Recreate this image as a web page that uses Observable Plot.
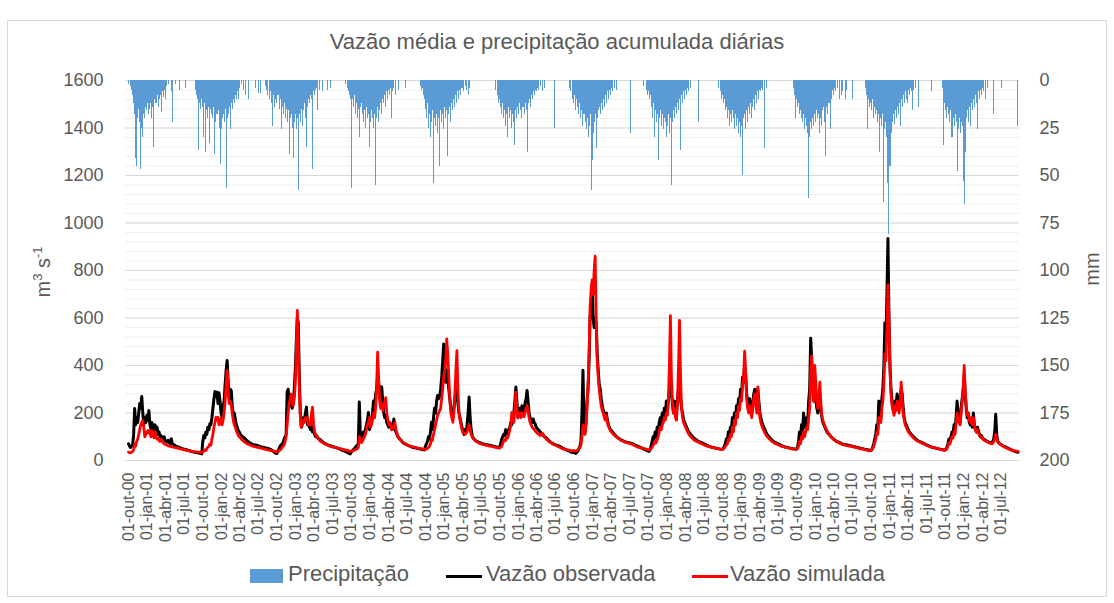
<!DOCTYPE html>
<html><head><meta charset="utf-8">
<script src="https://cdn.jsdelivr.net/npm/d3@7"></script>
<script src="https://cdn.jsdelivr.net/npm/@observablehq/plot@0.6"></script>
<style>
body{margin:0;background:#fff;font-family:'Liberation Sans',Arial,sans-serif;color:#595959;}
#wrap{position:relative;width:1114px;height:603px;overflow:hidden;background:#fff;}
#frame{position:absolute;left:7px;top:20px;width:1100px;height:577px;border:1px solid #d9d9d9;box-sizing:border-box;}
#chart{position:absolute;left:0;top:0;}
#title{position:absolute;left:0;top:31px;width:1114px;text-align:center;font-size:22px;line-height:22px;white-space:nowrap;}
.ylab{position:absolute;font-size:20px;line-height:20px;white-space:nowrap;transform:translate(-50%,-50%) rotate(-90deg);}
.ylab sup{font-size:13px;line-height:0;}
.leg{position:absolute;top:563px;font-size:22px;line-height:22px;white-space:nowrap;}
.sw{position:absolute;}
</style></head>
<body>
<div id="wrap">
  <div id="frame"></div>
  <div id="chart"></div>
  <div id="title">Vazão média e precipitação acumulada diárias</div>
  <div class="ylab" style="left:43px;top:272px;">m<sup>3</sup> s<sup>-1</sup></div>
  <div class="ylab" style="left:1092px;top:269px;">mm</div>
  <div class="sw" style="left:250px;top:569px;width:33px;height:14px;background:#5b9bd5;"></div>
  <div class="leg" style="left:288px;">Precipitação</div>
  <div class="sw" style="left:446px;top:575px;width:36px;height:3px;background:#000;"></div>
  <div class="leg" style="left:486px;">Vazão observada</div>
  <div class="sw" style="left:692px;top:575px;width:36px;height:3px;background:#ff0000;"></div>
  <div class="leg" style="left:730px;">Vazão simulada</div>
</div>
<script>
// 5-day samples from 01-out-2000, one row per hydrological year (Oct-Sep), 73 values each
const vazaoObservada = [
 [70,60,55,60,65, 110,219,150,180, 160,200,240,220, 269,200,150,180, 160,190,170,210, 150,130,160,140, 120,150,130,140, 110,120,100,105, 95,90,100,85, 80,78,85,75, 72,92,70,68, 65,62,60,58, 57,55,53,52, 50,49,47,46, 45,44,42,41, 40,38,37,36, 35,34,33,32, 31,30,29,28],
 [80,105,95,120,110, 140,130,155,150, 180,220,260,290, 270,288,240,285, 250,200,180,230, 250,320,380,421, 330,260,300,295, 230,190,200,175, 150,140,125,120, 110,105,100,98, 95,90,85,82, 78,75,72,70, 68,67,66,65, 64,63,62,60, 58,57,56,55, 54,53,52,51, 50,48,46,44, 40,36,32,30],
 [30,40,50,60,65, 70,75,90,100, 110,288,300,250, 230,260,220,240, 300,380,500,600, 580,350,200,140, 160,180,170,200, 225,150,160,140, 130,150,120,130, 110,100,105,95, 92,90,85,82, 78,75,72,70, 68,66,64,62, 61,60,58,57, 56,55,53,51, 50,48,46,44, 42,40,38,36, 34,32,30,28],
 [35,40,45,50,55, 60,65,70,246, 110,90,100,120, 110,130,150,170, 202,130,150,170, 200,250,220,280, 300,360,330,260, 300,310,252,200, 180,190,160,150, 140,160,150,130, 140,175,130,120, 110,100,95,90, 85,80,75,72, 70,68,66,64, 62,60,58,56, 55,54,53,52, 51,50,49,48, 47,46,45,44],
 [60,70,80,100,90, 120,161,130,180, 220,200,250,274, 260,270,300,350, 420,491,400,330, 380,350,300,260, 220,200,180,220, 260,300,280,240, 200,180,160,140, 120,110,130,120, 150,200,267,180, 130,105,95,90, 85,82,80,78, 76,74,72,71, 70,69,68,67, 66,65,64,63, 62,61,60,59, 58,57,56,56],
 [56,70,90,100,110, 105,130,120,110, 130,140,160,150, 180,200,250,309, 250,180,200,220, 190,230,210,200, 240,260,295,250, 200,180,170,160, 175,160,154,140, 135,130,125,120, 115,110,105,100, 98,95,90,86, 82,78,75,72, 70,68,66,64, 63,62,60,58, 55,52,50,48, 46,44,42,40, 38,36,35,34],
 [34,32,30,35,40, 50,60,80,200, 380,150,120,160, 250,300,420,600, 650,740,600,560, 600,580,450,380, 320,300,260,230, 210,190,180,200, 170,150,140,130, 125,120,115,110, 105,100,97,94, 91,88,86,84, 82,80,78,77, 76,75,74,73, 72,70,68,66, 64,62,60,58, 56,54,52,50, 48,46,44,42],
 [40,38,45,60,80, 100,90,120,100, 140,120,160,180, 150,200,170,220, 180,250,200,260, 300,330,280,240, 200,250,220,200, 260,300,340,260, 220,200,170,160, 150,140,130,120, 115,110,105,100, 95,92,88,85, 82,80,78,76, 74,72,70,68, 66,64,62,60, 58,57,56,55, 54,53,52,51, 50,49,48,47],
 [47,50,60,70,90, 80,120,100,140, 130,180,150,200, 170,230,200,260, 240,300,280,350, 330,400,360,280, 250,230,260,220, 200,240,280,300, 260,220,300,250, 200,180,160,150, 140,130,120,110, 105,100,95,90, 86,82,79,76, 74,72,70,68, 66,64,62,60, 58,57,56,55, 54,53,52,51, 50,50,49,48],
 [48,55,80,120,100, 150,120,200,140, 160,180,150,250, 300,515,420,300, 250,300,260,220, 200,240,280,220, 180,160,150,140, 130,120,115,110, 105,100,96,92, 88,85,82,80, 78,76,74,72, 70,69,68,67, 66,65,64,63, 62,61,60,59, 58,57,56,55, 54,53,52,51, 50,49,48,47, 46,45,44,43],
 [43,45,55,70,90, 110,150,130,250, 200,180,260,300, 400,580,500,700, 935,600,400,300, 250,220,200,250, 230,280,260,220, 250,300,280,220, 180,160,150,140, 130,120,115,110, 105,100,96,92, 88,85,82,80, 78,76,74,72, 70,68,66,64, 62,60,58,56, 55,54,53,52, 51,50,49,48, 47,46,45,44],
 [44,48,55,70,90, 80,100,120,110, 150,130,180,250, 200,180,160,220, 260,300,360,280, 220,180,200,160, 150,170,140,200, 150,130,120,140, 125,110,100,105, 95,90,88,85, 82,80,78,76, 74,72,80,90, 120,195,110,80, 75,70,68,65, 62,60,58,56, 54,52,50,48, 46,44,42,40, 38,37,36,35]
];
const vazaoSimulada = [
 [35,33,32,35,38, 45,70,60,80, 90,110,130,150, 160,168,140,100, 110,120,126,115, 125,100,126,110, 95,120,100,90, 95,85,80,90, 85,75,70,68, 66,64,62,60, 59,58,57,56, 55,54,53,52, 51,50,49,48, 47,46,45,44, 43,42,41,40, 40,39,38,38, 37,36,36,35, 35,34,34,33],
 [35,40,45,42,50, 55,60,70,65, 90,110,140,160, 182,170,182,150, 175,160,150,170, 200,250,320,379, 300,240,250,231, 200,170,150,140, 125,115,105,100, 95,90,86,82, 78,75,72,70, 68,66,64,62, 60,59,58,57, 56,55,54,53, 52,51,50,49, 48,47,46,45, 44,43,42,41, 40,39,38,37],
 [37,38,40,45,48, 55,60,65,80, 100,150,200,240, 260,280,250,230, 260,320,450,632, 500,300,180,140, 150,170,160,180, 170,181,150,160, 150,200,225,150, 120,110,100,95, 90,85,80,78, 75,72,70,68, 66,64,62,61, 60,58,57,56, 55,54,53,52, 51,50,49,48, 47,46,45,44, 43,42,40,38],
 [40,40,42,44,45, 48,50,55,100, 80,75,80,90, 100,110,130,150, 160,181,140,150, 170,200,180,220, 300,456,350,250, 220,240,210,230, 250,265,200,170, 150,160,140,130, 140,150,160,130, 115,100,92,88, 84,80,76,73, 70,68,66,64, 62,60,59,58, 57,56,55,54, 53,52,51,50, 50,49,48,47],
 [46,48,50,55,60, 70,90,85,110, 130,150,170,190, 200,210,220,260, 300,350,380,420, 512,450,350,260, 200,180,161,200, 280,380,463,300, 200,170,150,130, 120,115,110,115, 120,140,150,130, 110,100,92,88, 84,80,77,75, 73,71,70,68, 67,66,65,64, 63,62,61,60, 59,58,57,56, 55,54,53,52],
 [52,55,60,70,80, 90,85,100,95, 110,130,150,202, 180,160,220,288, 220,180,190,200, 180,200,190,185, 200,220,231,210, 180,160,150,140, 135,130,125,120, 115,112,108,105, 110,115,110,100, 95,90,86,82, 79,76,73,70, 68,66,64,62, 60,58,56,54, 52,50,49,48, 47,46,45,44, 43,42,42,41],
 [42,40,40,42,45, 50,55,65,100, 150,120,110,150, 220,320,450,650, 720,760,700,800, 860,600,420,350, 300,260,230,210, 200,180,170,190, 160,145,135,125, 120,115,110,106, 102,98,95,92, 89,86,84,82, 80,78,76,75, 74,73,72,70, 68,66,64,62, 60,58,56,55, 54,53,52,51, 50,49,48,47],
 [46,45,46,50,55, 65,70,80,75, 90,100,120,140, 130,150,160,180, 170,200,190,250, 400,610,350,250, 200,220,180,170, 250,400,590,350, 220,180,160,150, 140,130,120,112, 106,100,96,92, 88,85,82,80, 78,76,74,72, 70,68,66,64, 62,60,59,58, 57,56,55,54, 53,52,51,50, 50,49,48,47],
 [46,48,52,58,65, 70,90,85,110, 100,140,120,170, 150,200,180,230, 210,260,250,320, 350,460,380,260, 220,200,230,200, 180,220,260,280, 240,200,310,230, 180,160,145,135, 125,115,108,102, 97,92,88,84, 80,77,74,72, 70,68,66,64, 62,60,59,58, 57,56,55,54, 53,52,51,50, 49,48,48,47],
 [47,50,60,80,70, 100,90,120,100, 120,140,130,180, 220,380,440,300, 250,400,330,250, 220,260,330,240, 190,170,155,145, 135,125,118,112, 106,100,95,91, 87,84,81,78, 76,74,72,70, 68,67,66,65, 64,63,62,61, 60,59,58,57, 56,55,54,53, 52,51,50,49, 48,47,46,45, 44,43,42,41],
 [42,44,50,60,75, 90,120,110,180, 170,160,220,250, 320,450,420,550, 740,600,380,280, 230,210,190,230, 210,250,230,200, 240,330,260,200, 170,150,140,130, 122,115,110,105, 100,96,92,88, 85,82,80,78, 76,74,72,70, 68,66,64,62, 60,58,57,56, 55,54,53,52, 51,50,49,48, 47,46,45,44],
 [43,45,50,60,75, 70,85,100,95, 120,110,150,200, 170,160,150,200, 250,300,400,300, 230,190,200,170, 160,180,150,180, 150,130,120,130, 115,105,98,100, 92,88,85,82, 80,78,76,74, 72,70,72,78, 90,110,95,80, 74,70,67,64, 61,58,56,54, 52,50,48,46, 45,44,43,42, 41,40,39,38]
];
const precipitacao = [
 [2,0,3,5,8,12,18,41,45,20, 15,22,47,25,30,18,20,14,16,12, 18,15,12,20,14,35,10,12,8,14, 10,8,17,6,9,5,10,3,0,2, 0,0,6,22,0,0,2,0,0,0, 5,0,0,0,0,0,4,0,0,0, 0,0,0,0,0,0,5,8,10,37, 12,15,10],
 [14,30,12,38,16,20,14,33,15,18, 20,14,39,22,18,16,25,44,26,20, 18,22,15,57,20,18,14,26,12,15, 10,12,8,10,6,10,4,0,2,0, 5,0,8,0,0,10,0,0,0,0, 0,0,4,0,0,7,0,7,0,0, 0,0,3,5,8,0,10,6,12,24, 8,14,10],
 [12,8,15,10,26,14,18,12,20,15, 22,16,39,20,18,25,41,22,18,26, 20,58,18,22,15,24,16,12,20,35, 14,10,12,8,10,47,6,8,5,4, 16,0,5,0,0,6,0,0,0,0, 5,0,0,4,0,0,0,0,0,0, 0,0,0,0,0,0,0,2,0,4, 6,8,10],
 [57,10,14,8,18,12,20,15,30,14, 12,18,22,16,25,14,20,18,35,22, 16,20,25,18,55,20,14,22,16,12, 18,10,12,8,14,6,10,5,8,4, 20,6,4,0,8,0,0,5,0,0, 0,0,0,4,0,0,0,0,0,0, 0,0,0,0,0,0,0,0,3,5, 4,8,10],
 [15,20,12,25,18,30,22,16,54,20, 24,18,28,20,45,16,22,18,26,14, 20,16,40,18,14,22,12,16,10,14, 8,12,6,10,5,8,4,6,0,3, 5,0,8,4,0,0,0,0,0,0, 0,0,0,0,0,0,0,0,0,0, 0,0,0,0,0,0,0,0,0,5, 0,8,12],
 [10,14,18,12,20,16,24,18,30,14, 20,16,25,18,22,34,16,20,14,18, 12,16,20,14,18,12,16,38,12,10, 14,8,10,6,8,5,6,4,5,0, 3,0,6,0,4,0,0,0,0,0, 0,0,0,0,25,0,0,0,0,0, 0,0,0,0,0,0,0,0,0,4, 6,0,10],
 [12,8,16,10,14,18,12,20,16,24, 18,22,26,20,30,24,18,58,42,28, 22,18,36,20,16,14,18,12,16,10, 14,8,12,6,10,5,8,4,6,0, 4,0,5,0,0,0,0,0,0,0, 0,0,0,0,0,0,28,0,0,0, 0,0,0,0,0,0,0,0,0,3, 0,5,8],
 [6,10,8,14,20,12,30,16,22,18, 42,20,16,24,18,26,20,22,30,24, 18,28,20,55,22,16,20,14,18,12, 16,10,37,8,12,6,10,5,8,4, 6,0,4,0,0,0,0,0,0,0, 22,0,0,0,0,0,0,0,0,0, 0,0,0,0,0,0,0,0,0,4, 0,6,10],
 [8,12,10,16,14,20,16,24,18,22, 16,20,26,18,24,20,28,22,30,24, 50,20,18,26,16,22,14,18,12,20, 14,10,16,8,12,6,10,5,6,4, 5,0,36,0,4,0,0,0,0,0, 0,0,0,0,0,0,0,0,0,0, 0,0,0,0,0,0,0,0,0,0, 4,8,20],
 [10,14,12,18,16,20,22,18,26,20, 24,28,62,30,22,26,20,24,18,22, 16,20,18,28,20,24,16,14,22,40, 14,18,12,26,10,5,8,4,6,0, 4,0,10,0,8,6,0,0,10,5, 0,0,0,0,0,10,0,0,0,0, 0,0,0,0,0,0,0,0,4,8, 26,10,14],
 [12,16,10,20,14,18,16,22,18,38, 20,24,18,64,26,22,30,54,81,45, 28,22,18,23,16,20,14,18,12,24, 10,14,8,12,6,10,12,5,8,4, 6,16,5,0,4,0,0,14,0,0, 0,0,0,0,0,0,0,0,0,0, 6,0,0,0,0,0,0,0,0,0, 0,4,34],
 [12,16,20,14,18,22,16,30,20,24, 18,22,48,26,20,28,22,24,53,65, 38,20,16,22,14,24,12,16,10,14, 8,12,26,6,10,5,8,4,6,0, 10,0,4,0,0,0,0,0,18,0, 0,0,0,0,0,0,4,0,0,0, 0,0,0,0,0,0,0,0,0,0, 0,24,0]
];
const stepDays = 5;
const startDate = new Date(Date.UTC(2000, 9, 1));
const yTicks = [0,200,400,600,800,1000,1200,1400,1600];
const mmTicks = [0,25,50,75,100,125,150,175,200];
const mesesPt = ["jan","fev","mar","abr","mai","jun","jul","ago","set","out","nov","dez"];

const mmToFlow = 1600 / 200; // right axis: 0 mm at top, 200 mm at bottom
const obsFlat = vazaoObservada.flat();
const simFlat = vazaoSimulada.flat();
const precFlat = precipitacao.flat();
const table = obsFlat.map((v, i) => ({
  date: d3.utcDay.offset(startDate, i * stepDays),
  end: d3.utcDay.offset(startDate, (i + 1) * stepDays),
  obs: v,
  sim: simFlat[i],
  prec: precFlat[i]
}));
const xTicks = d3.utcMonth.every(3).range(startDate, new Date(Date.UTC(2012, 6, 2)));
const fmt = d => "01-" + mesesPt[d.getUTCMonth()] + "-" + String(d.getUTCFullYear() % 100).padStart(2, "0");

const chart = Plot.plot({
  width: 1114,
  height: 603,
  marginLeft: 125,
  marginRight: 95,
  marginTop: 80,
  marginBottom: 143,
  style: {fontFamily: "'Liberation Sans', Arial, sans-serif", color: "#595959", background: "transparent"},
  x: {type: "utc", domain: [new Date(Date.UTC(2000, 8, 16)), new Date(Date.UTC(2012, 8, 30))]},
  y: {domain: [0, 1600]},
  marks: [
    Plot.ruleY(d3.range(0, 1601, 40), {stroke: "#efefef", strokeWidth: 1}),
    Plot.ruleY(yTicks, {stroke: "#d9d9d9", strokeWidth: 1}),
    Plot.rect(table.filter(d => d.prec > 0), {x1: "date", x2: "end", y1: 1600, y2: d => 1600 - d.prec * mmToFlow, fill: "#5b9bd5", inset: 0, shapeRendering: "crispEdges"}),
    Plot.line(table, {x: "date", y: "obs", stroke: "#000", strokeWidth: 3, strokeLinejoin: "round"}),
    Plot.line(table, {x: "date", y: "sim", stroke: "#ff0000", strokeWidth: 2.8, strokeLinejoin: "round"}),
    Plot.axisY({anchor: "left", ticks: yTicks, tickFormat: d => String(d), tickSize: 0, tickPadding: 22, fontSize: 18, label: null}),
    Plot.axisY({anchor: "right", ticks: mmTicks.map(m => 1600 - m * mmToFlow), tickFormat: d => String(Math.round((1600 - d) / mmToFlow)), tickSize: 0, tickPadding: 20, fontSize: 18, label: null}),
    Plot.axisX({ticks: xTicks, tickFormat: fmt, tickRotate: -90, tickSize: 0, tickPadding: 12, fontSize: 16, label: null})
  ]
});
document.getElementById("chart").appendChild(chart);
</script>
</body></html>
